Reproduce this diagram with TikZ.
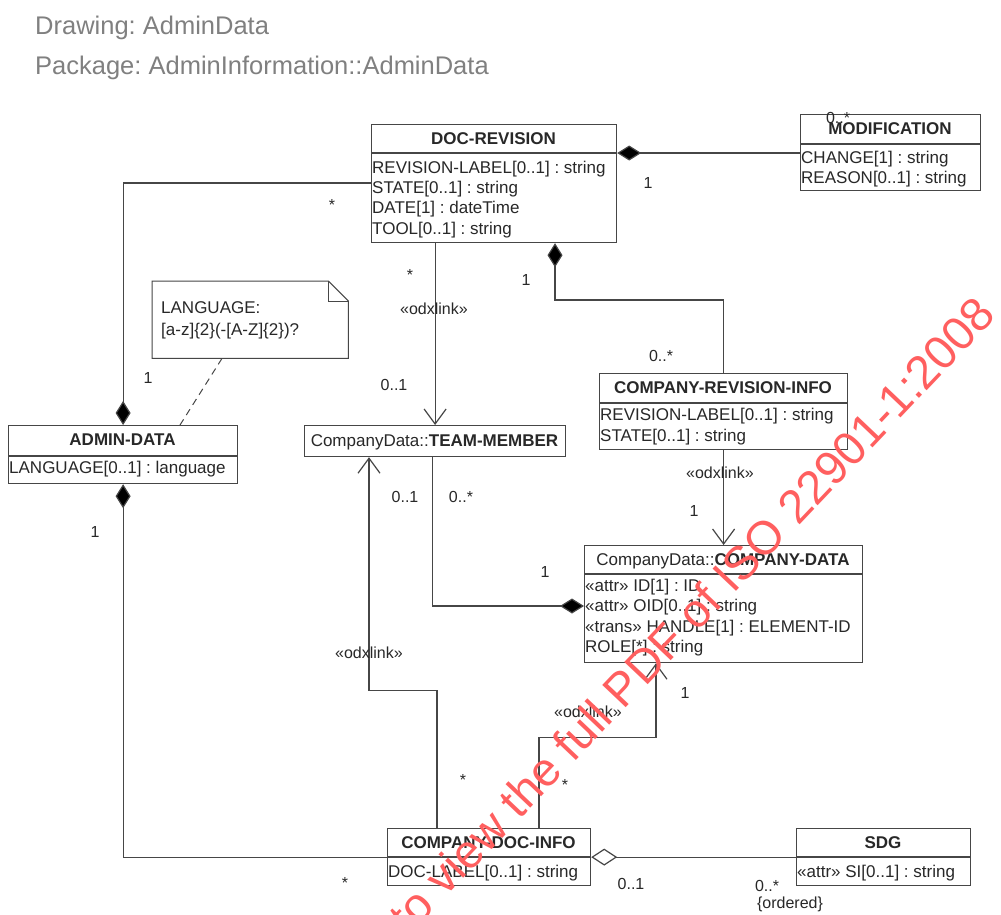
\documentclass[tikz,border=0pt]{standalone}
\usepackage{fontspec}
\setmainfont{Liberation Sans}
\usetikzlibrary{arrows.meta,calc}
\definecolor{ink}{RGB}{40,40,40}
\definecolor{edge}{RGB}{70,70,70}
\definecolor{head}{RGB}{128,128,128}
\definecolor{wmred}{RGB}{255,95,95}
\frenchspacing
\begin{document}
\frenchspacing
\begin{tikzpicture}[x=1pt,y=-1pt,
  box/.style={draw=edge, line width=1.2pt, fill=white, inner sep=0pt, anchor=north west},
  ttl/.style={font=\bfseries\fontsize{17}{20}\selectfont, anchor=base, inner sep=0pt, text=ink},
  att/.style={font=\fontsize{17}{20}\selectfont, anchor=base west, inner sep=0pt, text=ink},
  lbl/.style={font=\fontsize{16}{19}\selectfont, inner sep=0pt, text=ink},
  ln/.style={draw=edge, line width=1.2pt},
  comp/.tip={Diamond[length=24pt,width=15pt,fill=black]},
  agg/.tip={Diamond[open,length=26pt,width=17pt,fill=white]},
  nav/.tip={Straight Barb[length=15pt,width=22pt]}
]
\useasboundingbox (0,0) rectangle (1001,914);
\fill[white] (0,0) rectangle (1001,914);

% headings
\node[anchor=base west, inner sep=0pt, font=\fontsize{25.5}{30}\selectfont, text=head] (h1) at (35,34) {Drawing: AdminData};
\node[anchor=base west, inner sep=0pt, font=\fontsize{25.5}{30}\selectfont, text=head] (h2) at (35,74) {Package: AdminInformation::AdminData};

% boxes
\node[box, minimum width=245pt, minimum height=118pt] (docrev) at (371,124) {};
\node[box, minimum width=180pt, minimum height=76pt] (modif) at (800,114) {};
\node[box, minimum width=248pt, minimum height=76pt] (cri) at (599,373) {};
\node[box, minimum width=261pt, minimum height=31pt] (tm) at (304,425) {};
\node[box, minimum width=229pt, minimum height=58pt] (admin) at (8,425) {};
\node[box, minimum width=278pt, minimum height=117pt] (cd) at (584,545) {};
\node[box, minimum width=203pt, minimum height=57pt] (cdi) at (387,828) {};
\node[box, minimum width=174pt, minimum height=57pt] (sdg) at (796,828) {};
\node[inner sep=0pt, minimum width=196pt, minimum height=77pt, anchor=north west] (note) at (152,281) {};

% dividers
\draw[ln] ($(docrev.north west)+(0,29)$) -- ($(docrev.north east)+(0,29)$);
\draw[ln] ($(modif.north west)+(0,30)$) -- ($(modif.north east)+(0,30)$);
\draw[ln] ($(cri.north west)+(0,30)$) -- ($(cri.north east)+(0,30)$);
\draw[ln] ($(admin.north west)+(0,31)$) -- ($(admin.north east)+(0,31)$);
\draw[ln] ($(cd.north west)+(0,29)$) -- ($(cd.north east)+(0,29)$);
\draw[ln] ($(cdi.north west)+(0,29)$) -- ($(cdi.north east)+(0,29)$);
\draw[ln] ($(sdg.north west)+(0,29)$) -- ($(sdg.north east)+(0,29)$);

% note shape
\draw[ln, line width=1pt, fill=white] (note.north west) -- ($(note.north east)+(-20,0)$) -- ($(note.north east)+(0,20)$) -- (note.south east) -- (note.south west) -- cycle;
\draw[ln, line width=1pt] ($(note.north east)+(-20,0)$) -- ($(note.north east)+(-20,20)$) -- ($(note.north east)+(0,20)$);
\node[att] (n1) at (161,313) {LANGUAGE:};
\node[att] (n2) at (161,335) {[a-z]\{2\}(-[A-Z]\{2\})?};

% texts
\node[ttl] (tdocrev) at (493.5,144) {DOC-REVISION};
\node[att] (a1) at (372,173) {REVISION-LABEL[0..1] : string};
\node[att] (a2) at (372,193) {STATE[0..1] : string};
\node[att] (a3) at (372,213) {DATE[1] : dateTime};
\node[att] (a4) at (372,234) {TOOL[0..1] : string};

\node[ttl] (tmodif) at (890,134) {MODIFICATION};
\node[att] (m1) at (801,163) {CHANGE[1] : string};
\node[att] (m2) at (801,183) {REASON[0..1] : string};

\node[ttl] (tcri) at (723,393) {COMPANY-REVISION-INFO};
\node[att] (c1) at (600,420) {REVISION-LABEL[0..1] : string};
\node[att] (c2) at (600,441) {STATE[0..1] : string};

\node[ttl, font=\fontsize{17}{20}\selectfont] (ttm) at (434.5,446) {CompanyData::\textbf{TEAM-MEMBER}};

\node[ttl] (tadmin) at (122.5,445) {ADMIN-DATA};
\node[att] (d1) at (9,473) {LANGUAGE[0..1] : language};

\node[ttl, font=\fontsize{17}{20}\selectfont] (tcd) at (723,565) {CompanyData::\textbf{COMPANY-DATA}};
\node[att] (e1) at (585,591) {«attr» ID[1] : ID};
\node[att] (e2) at (585,611) {«attr» OID[0..1] : string};
\node[att] (e3) at (585,632) {«trans» HANDLE[1] : ELEMENT-ID};
\node[att] (e4) at (585,652) {ROLE[*] : string};

\node[ttl] (tcdi) at (488.5,848) {COMPANY-DOC-INFO};
\node[att] (f1) at (388,877) {DOC-LABEL[0..1] : string};

\node[ttl] (tsdg) at (883,848) {SDG};
\node[att] (g1) at (797,877) {«attr» SI[0..1] : string};

% connectors
\draw[ln, -{comp}] ($(docrev.north west)+(0,59)$) -| (admin.north);
\draw[ln, {comp}-] ($(docrev.north east)+(0,29)$) -- ($(modif.north west)+(0,39)$);
\draw[ln, -{nav}] (docrev.south -| tm.north) -- (tm.north);
\draw[ln, {comp}-] ($(docrev.south west)+(184,0)$) |- ($(cri.north)+(0,-73)$) -- (cri.north);
\draw[ln, -{nav}] (cri.south) -- (cri.south |- cd.north);
\draw[ln, -{comp}] ($(tm.south)+(-3,0)$) |- ($(cd.north west)+(0,61)$);
\draw[ln, -{nav}] ($(cdi.north west)+(50,0)$) |- ($(tm.south west)+(65,233)$) -- ($(tm.south west)+(65,0)$);
\draw[ln, -{nav}] ($(cdi.north west)+(152,0)$) |- ($(cd.south west)+(72,74)$) -- ($(cd.south west)+(72,0)$);
\draw[ln, {comp}-] (admin.south) |- (cdi.west);
\draw[ln, {agg}-] (cdi.east) -- (sdg.west);
\draw[ln, line width=1pt, dash pattern=on 7pt off 5pt] ($(note.south west)+(70,0)$) -- ($(admin.north west)+(172,0)$);

% multiplicities and stereotypes
\node[lbl] (l1) at (332,205) {*};
\node[lbl] (l2) at (148,378) {1};
\node[lbl] (l3) at (648,183) {1};
\node[lbl] (l4) at (838,118) {0..*};
\node[lbl] (l5) at (410,275) {*};
\node[lbl] (l6) at (434,309) {«odxlink»};
\node[lbl] (l7) at (394,385) {0..1};
\node[lbl] (l8) at (526,280) {1};
\node[lbl] (l9) at (661,356) {0..*};
\node[lbl] (l10) at (720,473) {«odxlink»};
\node[lbl] (l11) at (694,511) {1};
\node[lbl] (l12) at (461,497) {0..*};
\node[lbl] (l13) at (405,497) {0..1};
\node[lbl] (l14) at (545,572) {1};
\node[lbl] (l15) at (369,653) {«odxlink»};
\node[lbl] (l16) at (463,780) {*};
\node[lbl] (l17) at (588,712) {«odxlink»};
\node[lbl] (l18) at (685,693) {1};
\node[lbl] (l19) at (565,785) {*};
\node[lbl] (l20) at (95,532) {1};
\node[lbl] (l21) at (345,883) {*};
\node[lbl] (l22) at (631,884) {0..1};
\node[lbl] (l23) at (767,886) {0..*};
\node[lbl] (l24) at (790,904) {\{ordered\}};

% watermark
\begin{scope}
\clip (0,0) rectangle (1001,914);
\node[rotate=46.5, anchor=base east, inner sep=0pt, font=\fontsize{47}{50}\selectfont, text=wmred] (wm) at (998,316) {to view the full PDF of ISO 22901-1:2008};
\end{scope}
\end{tikzpicture}
\end{document}
